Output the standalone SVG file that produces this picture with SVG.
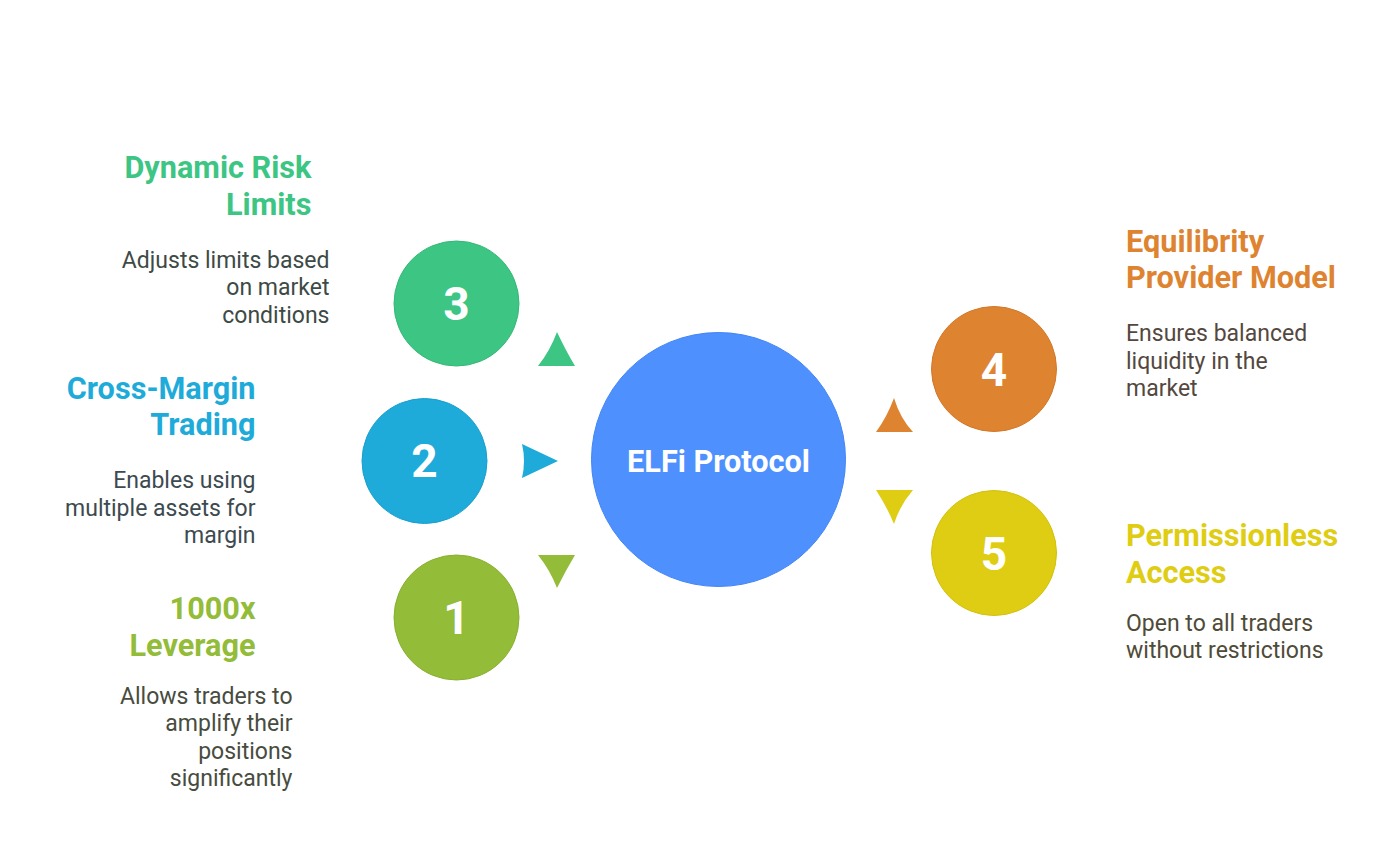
<svg xmlns="http://www.w3.org/2000/svg" width="1400" height="867" viewBox="0 0 1400 867">
<style>
text{font-family:Roboto,"Liberation Sans",sans-serif}
.t{font-size:30.670px;font-weight:700}
.d{font-size:23px}
.n{font-size:46px;font-weight:700;fill:#fff;text-anchor:middle}
.e{text-anchor:end}
</style>
<rect width="1400" height="867" fill="#fff"/>
<g id="connectors">
<path d="M557 332Q550 351 538 366H575Q566 351 557 332Z" fill="#3cc583"/>
<path d="M522 444L558 461L522 478Q526 461 522 444Z" fill="#1eabda"/>
<path d="M538 555H575Q566 570 557 588Q550 570 538 555Z" fill="#93bc39"/>
<path d="M894 398Q887 417 876 432H913Q900 418 894 398Z" fill="#de8431"/>
<path d="M876 490H913Q900 505 894 524Q887 507 876 490Z" fill="#dfcd13"/>
</g>
<g id="center"><circle cx="718.500" cy="459.500" r="127" fill="#4e90fe" stroke="#4285f4" stroke-width="1"/><text x="718.500" y="472" font-size="30.670" font-weight="700" fill="#fff" text-anchor="middle">ELFi Protocol</text></g>
<g id="node3"><circle cx="456.500" cy="303.500" r="62.500" fill="#3cc583" stroke="#35b877"/><text class="n" x="456.500" y="320">3</text>
<text class="t e" fill="#3cc583" x="311.500" y="177.500">Dynamic Risk</text><text class="t e" fill="#3cc583" x="311.500" y="214.500">Limits</text>
<text class="d e" fill="#3e4a45" x="329.500" y="267.500">Adjusts limits based</text><text class="d e" fill="#3e4a45" x="329.500" y="295">on market</text><text class="d e" fill="#3e4a45" x="329.500" y="322.500">conditions</text></g>
<g id="node2"><circle cx="424.500" cy="461" r="62.500" fill="#1eabda" stroke="#189fce"/><text class="n" x="424.500" y="477">2</text>
<text class="t e" fill="#1eabda" x="255.500" y="398.500">Cross-Margin</text><text class="t e" fill="#1eabda" x="255.500" y="435">Trading</text>
<text class="d e" fill="#3d4a50" x="255.500" y="488">Enables using</text><text class="d e" fill="#3d4a50" x="255.500" y="516">multiple assets for</text><text class="d e" fill="#3d4a50" x="255.500" y="543">margin</text></g>
<g id="node1"><circle cx="456.500" cy="617.500" r="62.500" fill="#93bc39" stroke="#88b02f"/><text class="n" x="456.500" y="634">1</text>
<text class="t e" fill="#93bc39" x="255.500" y="618.500">1000x</text><text class="t e" fill="#93bc39" x="255.500" y="655.500">Leverage</text>
<text class="d e" fill="#484c3f" x="292.500" y="703.500">Allows traders to</text><text class="d e" fill="#484c3f" x="292.500" y="731">amplify their</text><text class="d e" fill="#484c3f" x="292.500" y="759">positions</text><text class="d e" fill="#484c3f" x="292.500" y="786">significantly</text></g>
<g id="node4"><circle cx="994" cy="369" r="62.500" fill="#de8431" stroke="#d27828"/><text class="n" x="994" y="386">4</text>
<text class="t" fill="#de8431" x="1126" y="251.500">Equilibrity</text><text class="t" fill="#de8431" x="1126" y="288">Provider Model</text>
<text class="d" fill="#54483e" x="1126" y="340.500">Ensures balanced</text><text class="d" fill="#54483e" x="1126" y="368.500">liquidity in the</text><text class="d" fill="#54483e" x="1126" y="396">market</text></g>
<g id="node5"><circle cx="994" cy="553" r="62.500" fill="#dfcd13" stroke="#d3c10c"/><text class="n" x="994" y="570">5</text>
<text class="t" fill="#dfcd13" x="1126" y="545.500">Permissionless</text><text class="t" fill="#dfcd13" x="1126" y="582.500">Access</text>
<text class="d" fill="#4f4b38" x="1126" y="630.500">Open to all traders</text><text class="d" fill="#4f4b38" x="1126" y="658">without restrictions</text></g>
</svg>
